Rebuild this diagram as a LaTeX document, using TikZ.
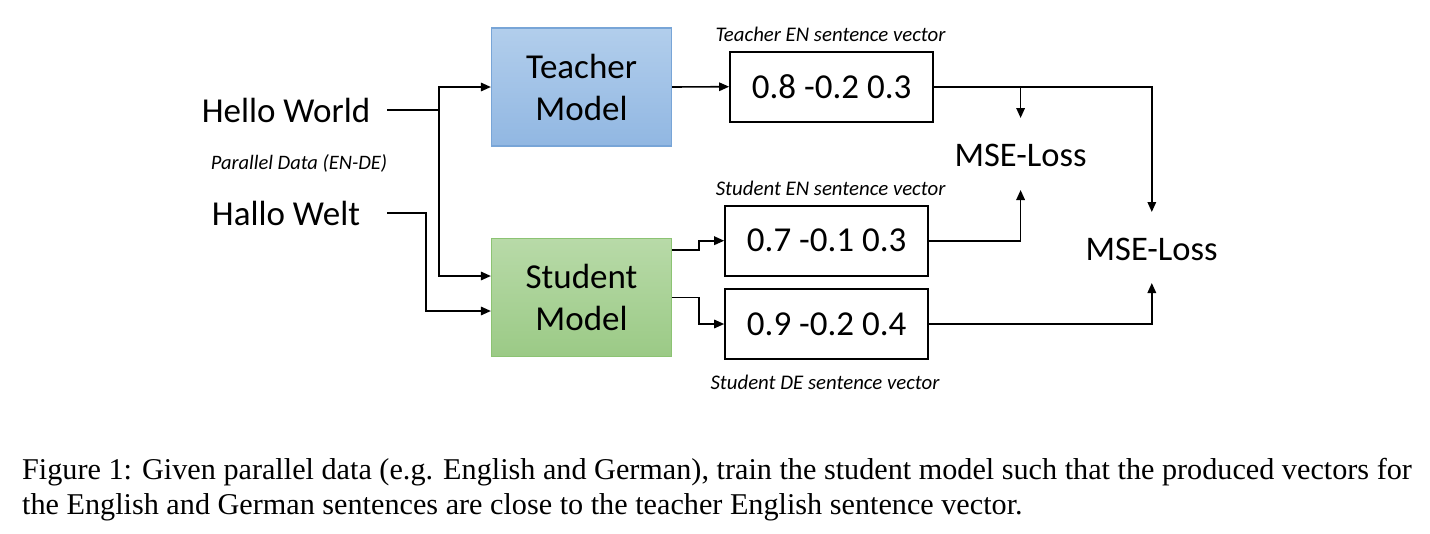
\documentclass[tikz,border=0pt]{standalone}
\usepackage{fontspec}
\setmainfont{Liberation Serif}
\newfontfamily\carfont{Carlito}
\usetikzlibrary{arrows.meta}
\definecolor{tbord}{RGB}{120,165,215}
\definecolor{ttop}{RGB}{178,206,236}
\definecolor{tbot}{RGB}{145,183,226}
\definecolor{sbord}{RGB}{140,195,115}
\definecolor{stop}{RGB}{184,218,168}
\definecolor{sbot}{RGB}{155,202,134}
\begin{document}
\begin{tikzpicture}[x=1pt,y=-1pt,
  ln/.style={line width=1.6pt},
  arr/.style={line width=1.6pt,-{Triangle[length=10pt,width=8.5pt]}},
  model/.style={line width=1.2pt, minimum width=180pt, minimum height=118pt, align=center,
    font=\carfont\fontsize{35}{42}\selectfont, inner sep=0pt},
  vecbox/.style={draw, line width=2pt, minimum width=203pt, minimum height=70pt, inner sep=0pt,
    font=\carfont\fontsize{35}{40}\selectfont},
  big/.style={font=\carfont\fontsize{35}{40}\selectfont, inner sep=0pt},
  loss/.style={font=\carfont\fontsize{34.5}{40}\selectfont, inner sep=0pt},
  lab/.style={font=\carfont\itshape\fontsize{20.8}{24}\selectfont, inner sep=0pt},
  captext/.style={font=\fontsize{30.2}{34}\selectfont, inner sep=0pt, anchor=base west}]
\useasboundingbox (0,0) rectangle (1430,533);
% models
\node[model, draw=tbord, top color=ttop, bottom color=tbot] (teacher) at (581.5,87) {Teacher\\Model};
\node[model, draw=sbord, top color=stop, bottom color=sbot] (student) at (581.5,297.5) {Student\\Model};
% inputs
\node[big] (hw) at (286,110) {Hello World};
\node[big] (hwl) at (286,213) {Hallo Welt};
\node[lab, font=\carfont\itshape\fontsize{20.5}{24}\selectfont] (par) at (299,163) {Parallel Data (EN-DE)};
% vectors
\node[vecbox] (v1) at (831.6,86.7) {0.8 -0.2 0.3};
\node[vecbox] (v2) at (826.7,240.7) {0.7 -0.1 0.3};
\node[vecbox] (v3) at (826.7,324) {0.9 -0.2 0.4};
\node[lab] (l1) at (830.5,34) {Teacher EN sentence vector};
\node[lab] (l2) at (830.6,188) {Student EN sentence vector};
\node[lab] (l3) at (825,382) {Student DE sentence vector};
% losses
\node[loss] (mse1) at (1020.6,155) {MSE-Loss};
\node[loss] (mse2) at (1151.7,249) {MSE-Loss};
% coordinates
\coordinate (hwo) at (387,110);
\coordinate (j1) at (439,110);
\coordinate (hlo) at (387,213);
\coordinate (j2) at (426,213);
\coordinate (b1) at (1020.6,87);
\coordinate (m1top) at (1020.6,118);
\coordinate (m1bot) at (1020.6,190);
\coordinate (m2top) at (1151.8,212);
\coordinate (m2bot) at (1151.8,283);
% connectors
\draw[ln] (hwo) -- (j1);
\draw[arr] (j1) |- (teacher.west);
\draw[arr] (j1) |- ([yshift=21.5pt]student.west);
\draw[arr] (hlo) -- (j2) |- ([yshift=-13.5pt]student.west);
\draw[arr] (teacher.east) -- (v1.west);
\draw[arr] ([yshift=47.5pt]student.east) -- ++(27,0) |- (v2.west);
\draw[arr] (student.east) -- ++(27,0) |- (v3.west);
\draw[arr] (v1.east) -| (m2top);
\draw[arr] (b1) -- (m1top);
\draw[arr] (v2.east) -| (m1bot);
\draw[arr] (v3.east) -| (m2bot);
% caption
\node[captext] (c1) at (22,479) {Figure 1: Given parallel data (e.g. English and German), train the student model such that the produced vectors for};
\node[captext] (c2) at (22,514) {the English and German sentences are close to the teacher English sentence vector.};
\end{tikzpicture}
\end{document}
